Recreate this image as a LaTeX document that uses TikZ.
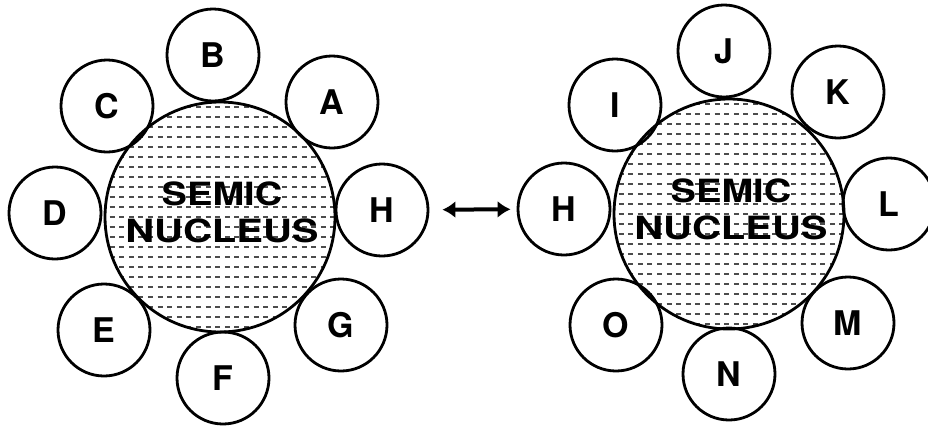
\documentclass[tikz,border=0pt]{standalone}
\usepackage{fontspec}
\setmainfont{TeX Gyre Heros}
\usepackage{graphicx}
\usetikzlibrary{arrows.meta}

\tikzset{
  ring/.style={circle, draw, line width=2.8pt, minimum size=92pt, inner sep=0pt,
    font=\fontsize{34}{34}\selectfont\bfseries},
  nucleus/.style={circle, draw, line width=2.8pt, minimum size=230pt, inner sep=0pt},
  nuctext/.style={align=center, inner sep=0pt,
    font=\fontsize{32}{37}\selectfont\bfseries},
  hatch/.style={draw=black!70, line width=1.7pt, dash pattern=on 5pt off 4.6pt},
  swap/.style={line width=4pt, {Latex[length=13pt,width=17pt]}-{Latex[length=13pt,width=17pt]}}
}

% rows of short dashes filling a nucleus of the given centre
\newcommand{\dashfill}[2]{%
  \begin{scope}
    \clip (#1,#2) circle (114pt);
    \foreach \k in {-11,...,11}
      \draw[hatch] (#1-120,#2+10*\k) -- (#1+120,#2+10*\k);
  \end{scope}}

\begin{document}
\begin{tikzpicture}[x=1pt,y=-1pt]
  \useasboundingbox (0,0) rectangle (928,426);

  % left group
  \dashfill{220}{217}
  \node[nucleus] (nl) at (220,217) {};
  \node[nuctext] (tl) at (222,212) {\scalebox{1.19}[1]{SEMIC}\\\scalebox{1.25}[1]{NUCLEUS}};
  \node[ring] (A) at (332,102) {A};
  \node[ring] (B) at (213,55)  {B};
  \node[ring] (C) at (107,106) {C};
  \node[ring] (D) at (55,213)  {D};
  \node[ring] (H1) at (382,210) {H};
  \node[ring] (E) at (104,330) {E};
  \node[ring] (F) at (223,378) {F};
  \node[ring] (G) at (341,325) {G};

  % right group
  \dashfill{729}{214}
  \node[nucleus] (nr) at (729,214) {};
  \node[nuctext] (tr) at (731,209) {\scalebox{1.19}[1]{SEMIC}\\\scalebox{1.25}[1]{NUCLEUS}};
  \node[ring] (I) at (615,105) {I};
  \node[ring] (J) at (724,51)  {J};
  \node[ring] (K) at (838,92)  {K};
  \node[ring] (H2) at (564,209) {H};
  \node[ring] (L) at (889,204) {L};
  \node[ring] (O) at (616,325) {O};
  \node[ring] (N) at (729,374) {N};
  \node[ring] (M) at (848,323) {M};

  % exchange of H between the two groups
  \draw[swap, shorten <=13pt, shorten >=6pt] (H1) -- (H2);
\end{tikzpicture}
\end{document}
